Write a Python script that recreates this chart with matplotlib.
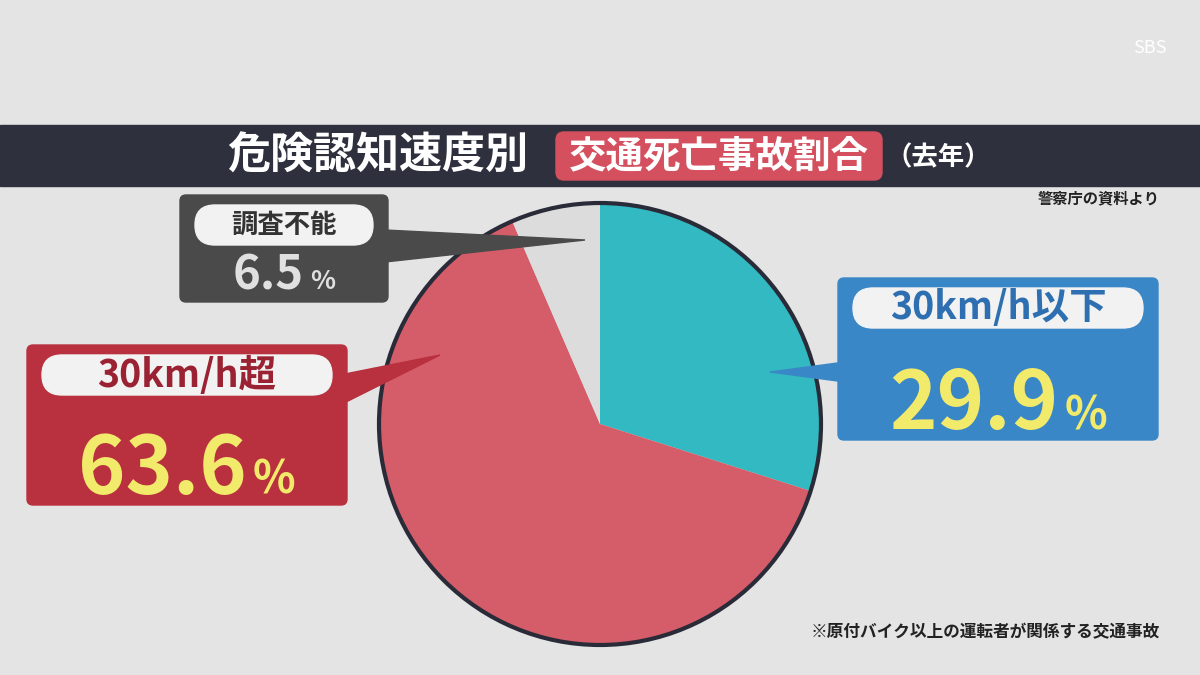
import matplotlib
matplotlib.use("Agg")
import matplotlib.pyplot as plt
from matplotlib.patches import FancyBboxPatch, Polygon, Rectangle

plt.rcParams['font.family'] = ['Noto Sans CJK JP', 'DejaVu Sans']

categories = ["30km/h以下", "30km/h超", "調査不能"]
values = [29.9, 63.6, 6.5]
colors = ["#33b9c1", "#d55c69", "#dcdcdc"]

W, H = 1200, 675
fig = plt.figure(figsize=(12, 6.75), dpi=100)
fig.patch.set_facecolor("#e4e4e4")
ax = fig.add_axes([0, 0, 1, 1])
ax.set_xlim(0, W); ax.set_ylim(0, H); ax.set_aspect('equal'); ax.axis('off')
Y = lambda y: H - y

# title bar
ax.add_patch(Rectangle((0, Y(186)), W, 61, color="#2e313d", zorder=1))
ax.text(378, Y(156), "危険認知速度別", color="white", fontsize=31, fontweight='bold', ha='center', va='center', zorder=3)
ax.add_patch(FancyBboxPatch((556, Y(180)), 326, 48, boxstyle="round,pad=0,rounding_size=8", color="#d4505f", zorder=2))
ax.text(719, Y(156), "交通死亡事故割合", color="white", fontsize=27, fontweight='bold', ha='center', va='center', zorder=3)
ax.text(938, Y(158), "（去年）", color="white", fontsize=19, fontweight='bold', ha='center', va='center', zorder=3)
ax.text(1160, Y(198), "警察庁の資料より", color="#222", fontsize=11, fontweight='bold', ha='right', va='center')
ax.text(1160, Y(632), "※原付バイク以上の運転者が関係する交通事故", color="#222", fontsize=12, fontweight='bold', ha='right', va='center')
ax.text(1150, Y(48), "SBS", color="white", fontsize=13, ha='center', va='center')

# pie
ax.pie(values, colors=colors, startangle=90, counterclock=False, center=(600, Y(424)), radius=221,
       wedgeprops=dict(linewidth=0), frame=True)
ax.add_patch(plt.Circle((600, Y(424)), 221, fill=False, ec="#2a2b38", lw=3, zorder=5))
ax.set_xlim(0, W); ax.set_ylim(0, H); ax.axis('off')

renderer = fig.canvas.get_renderer()

def callout(x0, y0, w, h, col, tip, base, pill_txt, pill_col, pct, pct_col, pill_fs, pct_fs, num_off):
    ax.add_patch(Polygon([(base[0][0], Y(base[0][1])), (tip[0], Y(tip[1])), (base[1][0], Y(base[1][1]))],
                         closed=True, color=col, zorder=6))
    ax.add_patch(FancyBboxPatch((x0, Y(y0 + h)), w, h, boxstyle="round,pad=0,rounding_size=6", color=col, zorder=6))
    pw = w - 30
    ax.add_patch(FancyBboxPatch((x0 + 15, Y(y0 + 50)), pw, 40, boxstyle="round,pad=0,rounding_size=20",
                                color="#f2f2f2", zorder=7))
    ax.text(x0 + w / 2, Y(y0 + 30), pill_txt, color=pill_col, fontsize=pill_fs, fontweight='bold',
            ha='center', va='center', zorder=8)
    cx = x0 + w / 2
    cy = Y(y0 + h - num_off)
    t1 = ax.text(0, cy, pct, color=pct_col, fontsize=pct_fs, fontweight='bold', ha='left', va='baseline', zorder=8)
    t2 = ax.text(0, cy, "%", color=pct_col, fontsize=pct_fs * 0.55, fontweight='bold', ha='left', va='baseline', zorder=8)
    w1 = t1.get_window_extent(renderer).width
    w2 = t2.get_window_extent(renderer).width
    gap = 6
    start = cx - (w1 + gap + w2) / 2
    t1.set_x(start)
    t2.set_x(start + w1 + gap)
    t1.set_y(cy - pct_fs * 0.5)
    t2.set_y(cy - pct_fs * 0.5)

callout(180, 195, 208, 107, "#4a4a4a", (585, 240), [(385, 230), (385, 262)],
        categories[2], "#333", f"{values[2]}", "#e0e0e0", 19, 34, 30)
callout(27, 345, 320, 160, "#b9303f", (440, 355), [(340, 375), (340, 405)],
        categories[1], "#9a2232", f"{values[1]}", "#f2ea6a", 27, 58, 40)
callout(838, 278, 320, 162, "#3a87c8", (770, 372), [(845, 362), (845, 382)],
        categories[0], "#2d6fb0", f"{values[0]}", "#f2ea6a", 27, 58, 40)

fig.savefig("out.png", dpi=100, facecolor=fig.get_facecolor())
